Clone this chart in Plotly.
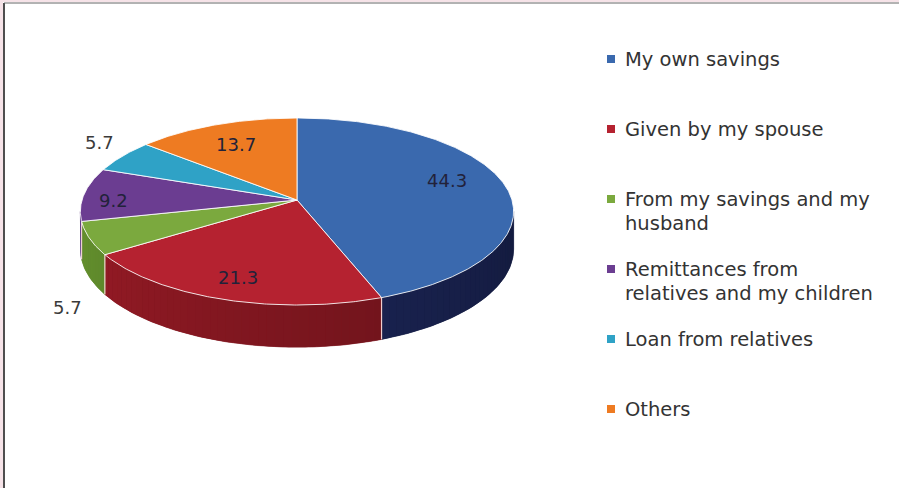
import math
import numpy as np
import plotly.graph_objects as go

# ---- data -------------------------------------------------------------
categories = [
    "My own savings",
    "Given by my spouse",
    "From my savings and my husband",
    "Remittances from relatives and my children",
    "Loan from relatives",
    "Others",
]
legend_text = [
    "My own savings",
    "Given by my spouse",
    "From my savings and my<br>husband",
    "Remittances from<br>relatives and my children",
    "Loan from relatives",
    "Others",
]
values = [44.3, 21.3, 5.7, 9.2, 5.7, 13.7]

# ---- styling ----------------------------------------------------------
top_colors = ["#3a69ae", "#b52230", "#7ba93e", "#6b3d91", "#2fa2c6", "#ee7b22"]
side_colors = ["#222e6a", "#9c1c27", "#66932f", "#55307a", "#22809c", "#c0621a"]
label_radius = [0.72, 0.80, 1.10, 0.86, 1.14, 0.74]
label_drop = [-8, 0, 62, 5, -8, 2]
FONT = "DejaVu Sans"

W, H = 899, 488
CX, CY = 297, 200          # pie centre (pixels)
RX, RY = 215, 92.1         # ellipse radii of the top face
K = 0.123                  # perspective strength
DEPTH = 37                 # thickness of the disc


def project(theta_deg, r=1.0, drop=0.0):
    """Map a point on the unit disc (clockwise from 12 o'clock) to pixels."""
    t = math.radians(theta_deg)
    u = r * math.sin(t)
    v = -r * math.cos(t)
    s = 1.0 / (1.0 - K * v)
    return CX + RX * u * s, CY + RY * v * s + drop * s


def shade(hex_color, f):
    h = hex_color.lstrip("#")
    r, g, b = (int(h[i:i + 2], 16) for i in (0, 2, 4))
    return "rgb(%d,%d,%d)" % (r * f, g * f, b * f)


def wall(a, b, npts):
    ts = np.linspace(a, b, npts)
    top = [project(t) for t in ts]
    bot = [project(t, drop=DEPTH) for t in ts[::-1]]
    pts = top + bot + [top[0]]
    return [p[0] for p in pts], [p[1] for p in pts]


total = sum(values)
bounds = np.concatenate([[0.0], np.cumsum(values) / total * 360.0])

fig = go.Figure()

# ---- side wall (front half only), lit from the left ---------------------
vis0 = math.degrees(math.acos(-K))
vis1 = 360.0 - vis0


def light(theta):
    return 0.58 + 0.42 * ((theta - vis0) / (vis1 - vis0))


for i in range(len(values)):
    lo, hi = max(bounds[i], vis0), min(bounds[i + 1], vis1)
    if lo >= hi:
        continue
    # solid base under the gradient strips
    xs, ys = wall(lo, hi, max(4, int(hi - lo) + 2))
    base = shade(side_colors[i], light(0.5 * (lo + hi)))
    fig.add_trace(go.Scatter(x=xs, y=ys, mode="lines", fill="toself",
                             fillcolor=base, line=dict(color=base, width=0.6),
                             hoverinfo="skip", showlegend=False))
    n = max(1, int(math.ceil((hi - lo) / 2.0)))
    edges = np.linspace(lo, hi, n + 1)
    for a, b in zip(edges[:-1], edges[1:]):
        xs, ys = wall(a, b, 4)
        fig.add_trace(go.Scatter(
            x=xs, y=ys, mode="none", fill="toself",
            fillcolor=shade(side_colors[i], light(0.5 * (a + b))),
            hoverinfo="skip", showlegend=False))

# light seams where slices meet on the wall
for b in bounds[1:-1]:
    if vis0 < b < vis1:
        p0, p1 = project(b), project(b, drop=DEPTH)
        fig.add_trace(go.Scatter(
            x=[p0[0], p1[0]], y=[p0[1], p1[1]], mode="lines",
            line=dict(color="rgba(255,225,225,0.9)", width=1.2),
            hoverinfo="skip", showlegend=False))

# ---- top faces --------------------------------------------------------
for i in range(len(values)):
    ts = np.arange(bounds[i], bounds[i + 1], 0.5).tolist() + [bounds[i + 1]]
    pts = [(CX, CY)] + [project(t) for t in ts] + [(CX, CY)]
    fig.add_trace(go.Scatter(
        x=[p[0] for p in pts], y=[p[1] for p in pts],
        mode="lines", fill="toself", fillcolor=top_colors[i],
        line=dict(color="rgba(255,255,255,0.85)", width=1),
        name=categories[i], hoverinfo="name", showlegend=False))

# ---- value labels -----------------------------------------------------
for i, v in enumerate(values):
    mid = 0.5 * (bounds[i] + bounds[i + 1])
    x, y = project(mid, r=label_radius[i], drop=label_drop[i])
    inside = label_radius[i] < 1.0
    fig.add_annotation(
        x=x, y=y, text="%.1f" % v, showarrow=False,
        font=dict(family=FONT, size=18, color="#22223a" if inside else "#3a3a3a"),
        xanchor="center", yanchor="middle")

# ---- legend -----------------------------------------------------------
LEG_X, LEG_Y0, LEG_DY, LINE_DY = 611, 59, 70, 24
fig.add_trace(go.Scatter(
    x=[LEG_X] * len(values), y=[LEG_Y0 + LEG_DY * i for i in range(len(values))],
    mode="markers",
    marker=dict(symbol="square", size=8, color=top_colors, line=dict(width=0)),
    hoverinfo="skip", showlegend=False))
for i, txt in enumerate(legend_text):
    for j, line in enumerate(txt.split("<br>")):
        fig.add_annotation(
            x=LEG_X + 12, y=LEG_Y0 + LEG_DY * i + LINE_DY * j, text=line,
            showarrow=False, font=dict(family=FONT, size=19.5, color="#333333"),
            xanchor="left", yanchor="middle", align="left")

# ---- frame ------------------------------------------------------------
fig.add_shape(type="rect", x0=0, x1=3, y0=0, y1=H, fillcolor="#f6e3e8",
              line_width=0, layer="below")
fig.add_shape(type="rect", x0=0, x1=W, y0=0, y1=2, fillcolor="#f6e3e8",
              line_width=0, layer="below")
fig.add_shape(type="line", x0=4, x1=4, y0=3, y1=H, line=dict(color="#222222", width=1.6))
fig.add_shape(type="line", x0=4, x1=W, y0=3, y1=3, line=dict(color="#666666", width=1))

fig.update_layout(
    width=W, height=H,
    margin=dict(l=0, r=0, t=0, b=0),
    paper_bgcolor="white", plot_bgcolor="white",
    xaxis=dict(range=[0, W], visible=False, fixedrange=True),
    yaxis=dict(range=[H, 0], visible=False, fixedrange=True),
    showlegend=False,
)

fig.write_html("out.html")
